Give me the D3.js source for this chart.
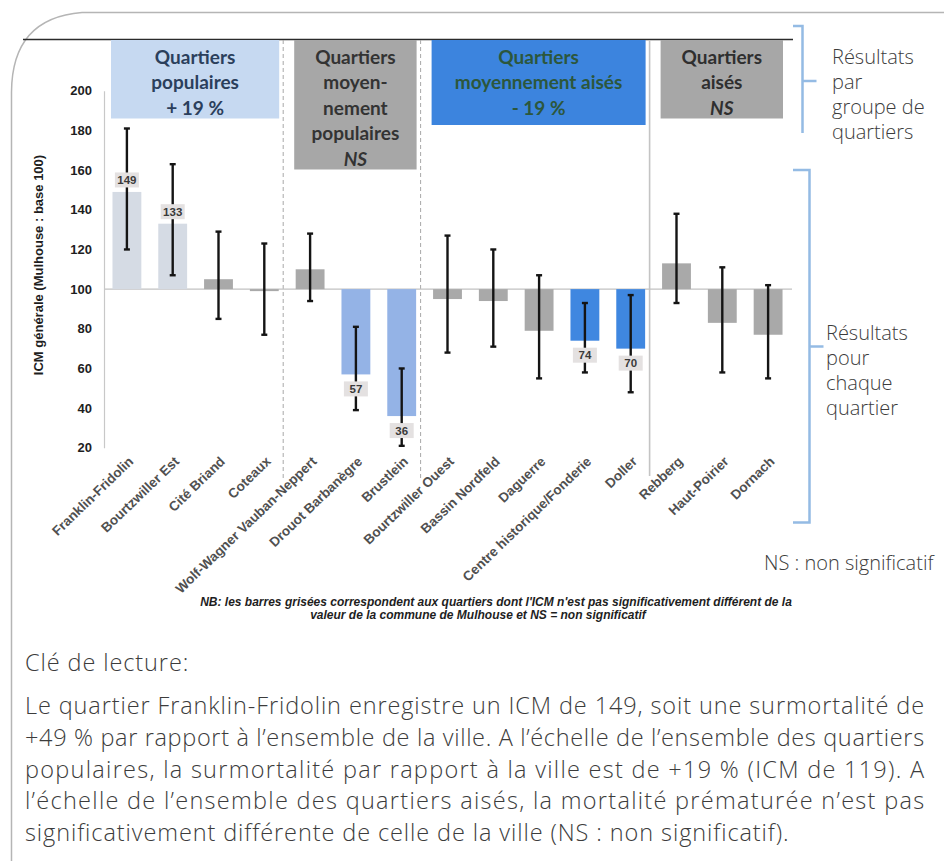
<!DOCTYPE html>
<html lang="fr">
<head>
<meta charset="utf-8">
<script src="https://cdn.jsdelivr.net/npm/d3@7"></script>
<style>
  html, body { margin: 0; padding: 0; background: #fff; }
  svg { display: block; }
</style>
</head>
<body>
<svg id="fig" width="944" height="861"></svg>
<script>
// Quartiers de Mulhouse, dans l'ordre des groupes
const quartiers = [
  "Franklin-Fridolin", "Bourtzwiller Est", "Cité Briand", "Coteaux",
  "Wolf-Wagner Vauban-Neppert", "Drouot Barbanègre", "Brustlein",
  "Bourtzwiller Ouest", "Bassin Nordfeld", "Daguerre", "Centre historique/Fonderie", "Doller",
  "Rebberg", "Haut-Poirier", "Dornach"
];
// ICM générale (Mulhouse : base 100)
const icm    = [149, 133, 105, 99, 110, 57, 36, 95, 94, 79, 74, 70, 113, 83, 77];
// Intervalle de confiance
const icBas  = [120, 107, 85, 77, 94, 39, 21, 68, 71, 55, 58, 48, 93, 58, 55];
const icHaut = [181, 163, 129, 123, 128, 81, 60, 127, 120, 107, 93, 97, 138, 111, 102];
// Statut de chaque quartier : sur = surmortalité, ns = non significatif, sous1/sous2 = sous-mortalité
const statut = ["sur", "sur", "ns", "ns", "ns", "sous1", "sous1", "ns", "ns", "ns", "sous2", "sous2", "ns", "ns", "ns"];

// Groupes de quartiers
const groupeTaille = [4, 3, 5, 3];
const groupeStatut = ["sur", "ns", "sous", "ns"];
const groupeLignes = [
  ["Quartiers", "populaires", "+ 19 %"],
  ["Quartiers", "moyen-", "nement", "populaires", "NS"],
  ["Quartiers", "moyennement aisés", "- 19 %"],
  ["Quartiers", "aisés", "NS"]
];

const yTicks = [20, 40, 60, 80, 100, 120, 140, 160, 180, 200];

const couleurBarre = { sur: "#d5dbe4", ns: "#a9a9a9", sous1: "#94b3e6", sous2: "#3f87e0" };
const couleurBoite = { sur: "#c6d9f1", ns: "#a7a7a7", sous: "#3c84de" };
const couleurTitre = ["#2b3f5c", "#333333", "#2c573c", "#2f2f2f"];

const svg = d3.select("#fig");

// Cadre de l'encart
svg.append("path")
  .attr("d", "M944,12.5 L82,12.5 Q12,18 11.5,92 L11.5,861")
  .attr("fill", "none").attr("stroke", "#b5b5b5").attr("stroke-width", 1.5);

const x = d3.scaleBand().domain(quartiers).range([104, 791]).paddingInner(0.37).paddingOuter(0.185);
const y = d3.scaleLinear().domain([20, 200]).range([447.8, 90.8]);
const x0 = x.range()[0], step = x.step();
const cx = q => x(q) + x.bandwidth() / 2;

// Filet supérieur
svg.append("line").attr("x1", 23).attr("x2", 793).attr("y1", 39.5).attr("y2", 39.5)
  .attr("stroke", "#2b2b2b").attr("stroke-width", 1.6);

// Séparateurs entre groupes
let cumul = 0;
const bornes = groupeTaille.map(n => { const d = cumul; cumul += n; return [d, cumul]; });
bornes.slice(1).forEach((b, i) => {
  const sx = x0 + b[0] * step - 4;
  svg.append("line").attr("x1", sx).attr("x2", sx).attr("y1", 40).attr("y2", i === 2 ? 476 : 481)
    .attr("stroke", i === 2 ? "#c4c4c4" : "#a8a8a8").attr("stroke-width", i === 2 ? 1.6 : 1)
    .attr("stroke-dasharray", i === 2 ? null : "4,3");
});

// Cartouches des groupes
bornes.forEach((b, i) => {
  const bx0 = x0 + b[0] * step + 7, bx1 = x0 + b[1] * step - 8;
  const n = groupeLignes[i].length;
  const h = i === 2 ? 85 : n * 25.5 + 2;
  svg.append("rect").attr("x", bx0).attr("y", 40).attr("width", bx1 - bx0).attr("height", h)
    .attr("fill", couleurBoite[groupeStatut[i]]);
  const t = svg.append("text").attr("text-anchor", "middle")
    .attr("font-family", "Lato, 'Open Sans', sans-serif").attr("font-weight", 700)
    .attr("font-size", 19).attr("fill", couleurTitre[i]);
  groupeLignes[i].forEach((l, j) => {
    t.append("tspan").attr("x", (bx0 + bx1) / 2).attr("y", 63.5 + j * 25.5)
      .attr("font-style", l === "NS" ? "italic" : null).text(l);
  });
});

// Ligne de référence (base 100)
svg.append("line").attr("x1", 104).attr("x2", 792).attr("y1", y(100)).attr("y2", y(100))
  .attr("stroke", "#c2c2c2").attr("stroke-width", 1.2);

// Axe des ordonnées
const axeY = svg.append("g").attr("transform", "translate(104,0)")
  .call(d3.axisLeft(y).tickValues(yTicks).tickSize(0).tickPadding(12).tickSizeOuter(0));
axeY.select(".domain").attr("stroke", "#c8c8c8").attr("stroke-width", 1.2);
axeY.selectAll("text").attr("font-family", "'Liberation Sans', Arial, sans-serif")
  .attr("font-weight", 700).attr("font-size", 13).attr("fill", "#1e1e1e");

svg.append("text").attr("transform", `translate(43,${(147 + 383) / 2}) rotate(-90)`)
  .attr("text-anchor", "middle").attr("font-family", "'Liberation Sans', Arial, sans-serif")
  .attr("font-weight", 700).attr("font-size", 13).attr("fill", "#1e1e1e")
  .text("ICM générale (Mulhouse : base 100)");

// Barres
svg.append("g").selectAll("rect").data(quartiers).join("rect")
  .attr("x", q => x(q)).attr("width", x.bandwidth())
  .attr("y", (q, i) => y(Math.max(icm[i], 100)))
  .attr("height", (q, i) => Math.abs(y(icm[i]) - y(100)))
  .attr("fill", (q, i) => couleurBarre[statut[i]]);

// Intervalles de confiance
const ic = svg.append("g").attr("stroke", "#141414").attr("stroke-width", 2.4);
quartiers.forEach((q, i) => {
  const c = cx(q);
  ic.append("line").attr("x1", c).attr("x2", c).attr("y1", y(icBas[i])).attr("y2", y(icHaut[i]));
  [icBas[i], icHaut[i]].forEach(v => {
    ic.append("line").attr("x1", c - 3).attr("x2", c + 3).attr("y1", y(v)).attr("y2", y(v));
  });
});

// Étiquettes de valeur des quartiers significatifs
quartiers.forEach((q, i) => {
  if (statut[i] === "ns") return;
  const c = cx(q);
  const ly = icm[i] > 100 ? y(icm[i]) - 12 : y(icm[i]) + 14.5;
  svg.append("rect").attr("x", c - 12).attr("y", ly - 7.5).attr("width", 24).attr("height", 15)
    .attr("fill", "#e4e1e1");
  svg.append("text").attr("x", c).attr("y", ly).attr("dy", "0.36em").attr("text-anchor", "middle")
    .attr("font-family", "'Liberation Sans', Arial, sans-serif").attr("font-weight", 700)
    .attr("font-size", 11.5).attr("fill", "#3a3a3a").text(icm[i]);
});

// Libellés des quartiers
svg.append("g").selectAll("text").data(quartiers).join("text")
  .attr("transform", q => `translate(${cx(q) + 4},${459}) rotate(-44)`)
  .attr("text-anchor", "end").attr("dy", "0.35em")
  .attr("font-family", "'Liberation Sans', Arial, sans-serif").attr("font-weight", 700)
  .attr("font-size", 13.5).attr("fill", "#505050").text(q => q);

// Note sous le graphique
const nb = svg.append("text").attr("text-anchor", "middle")
  .attr("font-family", "'Liberation Sans', Arial, sans-serif").attr("font-weight", 700)
  .attr("font-style", "italic").attr("font-size", 12).attr("fill", "#1e1e1e");
nb.append("tspan").attr("x", 496).attr("y", 606)
  .text("NB: les barres grisées correspondent aux quartiers dont l'ICM n'est pas significativement différent de la");
nb.append("tspan").attr("x", 478).attr("y", 619)
  .text("valeur de la commune de Mulhouse et NS = non significatif");

// Accolades et annotations à droite
const accolade = (xa, y0, y1, ym, basCrochet) => {
  let d = `M${793},${y0} H${xa} V${y1}`;
  if (basCrochet) d += ` H${793}`;
  svg.append("path").attr("d", d).attr("fill", "none").attr("stroke", "#94bbe4").attr("stroke-width", 2.5);
  svg.append("line").attr("x1", xa).attr("x2", xa + 14).attr("y1", ym).attr("y2", ym)
    .attr("stroke", "#94bbe4").attr("stroke-width", 2.5);
};
accolade(802.5, 26, 133, 81, false);
accolade(809.5, 170, 522.5, 346.5, true);

const annot = (xa, y0, lignes, taille) => {
  const t = svg.append("text").attr("font-family", "'Open Sans', sans-serif").attr("font-weight", 300)
    .attr("font-size", taille).attr("fill", "#3c3c3c");
  lignes.forEach((l, j) => t.append("tspan").attr("x", xa).attr("y", y0 + j * 25).text(l));
};
annot(832, 64, ["Résultats", "par", "groupe de", "quartiers"], 20);
annot(826, 340, ["Résultats", "pour", "chaque", "quartier"], 20);
annot(764, 570, ["NS : non significatif"], 20);

// Clé de lecture
const lecture = [
  "Le quartier Franklin-Fridolin enregistre un ICM de 149, soit une surmortalité de",
  "+49 % par rapport à l’ensemble de la ville. A l’échelle de l’ensemble des quartiers",
  "populaires, la surmortalité par rapport à la ville est de +19 % (ICM de 119). A",
  "l’échelle de l’ensemble des quartiers aisés, la mortalité prématurée n’est pas",
  "significativement différente de celle de la ville (NS : non significatif)."
];
const styleTexte = sel => sel.attr("font-family", "'Open Sans', sans-serif").attr("font-weight", 300)
  .attr("font-size", 23.5).attr("letter-spacing", 0.9).attr("fill", "#3c3c3c");
svg.append("text").attr("x", 25).attr("y", 671).call(styleTexte).text("Clé de lecture:");
lecture.forEach((l, j) => {
  const t = svg.append("text").attr("x", 25).attr("y", 714 + j * 31.8).call(styleTexte).text(l);
  if (j < lecture.length - 1) t.attr("textLength", 900).attr("lengthAdjust", "spacing");
});
</script>
</body>
</html>
